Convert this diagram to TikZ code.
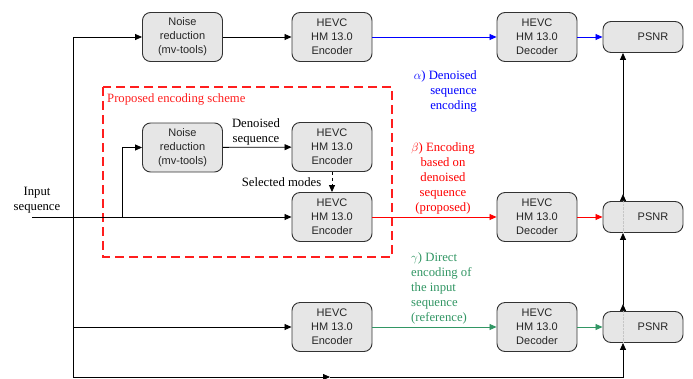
\documentclass[tikz,border=0pt]{standalone}
\usepackage{fontspec}
\setmainfont{Liberation Serif}
\newfontfamily\boxfont{Liberation Sans}
\usetikzlibrary{arrows.meta}
\definecolor{boxfill}{RGB}{230,230,230}
\definecolor{boxline}{RGB}{50,50,50}
\definecolor{grn}{RGB}{50,150,100}
\definecolor{lred}{RGB}{255,30,30}
\begin{document}
\begin{tikzpicture}[x=1pt,y=-1pt,
 blk/.style={draw=boxline, fill=boxfill, rounded corners=8pt, minimum width=80pt, minimum height=49pt, align=center, font=\boxfont\fontsize{11}{14}\selectfont, text=black!85, line width=0.9pt, inner sep=0pt},
 ps/.style={blk, minimum height=31pt},
 conn/.style={line width=0.8pt, -{Triangle[length=7pt,width=6pt]}},
 plain/.style={line width=0.8pt},
 ann/.style={font=\fontsize{12.7}{15}\selectfont, inner sep=0pt}
]
\useasboundingbox (0,0) rectangle (693,378);

% boxes
\node[blk] (nr1) at (182.5,37) {Noise\\reduction\\(mv-tools)};
\node[blk] (enc1) at (332,37) {HEVC\\HM 13.0\\Encoder};
\node[blk] (dec1) at (537,37) {HEVC\\HM 13.0\\Decoder};
\node[ps] (psnr1) at (643,37) {\hspace*{20pt}PSNR};

\node[blk] (nr2) at (182.5,147.5) {Noise\\reduction\\(mv-tools)};
\node[blk] (enc2) at (332,147) {HEVC\\HM 13.0\\Encoder};
\node[blk] (enc3) at (332,217) {HEVC\\HM 13.0\\Encoder};
\node[blk] (dec2) at (537,217) {HEVC\\HM 13.0\\Decoder};
\node[ps] (psnr2) at (643,217) {\hspace*{20pt}PSNR};

\node[blk] (enc4) at (332,327) {HEVC\\HM 13.0\\Encoder};
\node[blk] (dec3) at (537,327) {HEVC\\HM 13.0\\Decoder};
\node[ps] (psnr3) at (643,327) {\hspace*{20pt}PSNR};

% proposed scheme frame
\draw[draw=lred, dash pattern=on 9pt off 5pt, line width=1.1pt] (103,87) rectangle (392,257);
\node[ann, text=lred, anchor=base west] (prop) at (107,102.5) {Proposed encoding scheme};

% coordinates
\coordinate (in) at (32,217);
\coordinate (top) at (73,37);
\coordinate (bl) at (73,377);
\coordinate (mid) at (330,377);
\coordinate (br) at (623,377);
\coordinate (br2) at (122,217);

% input and trunk
\draw[conn] (in) -- (enc3.west);
\draw[plain] (bl) -- (top);
\draw[conn] (top) -- (nr1.west);
\draw[conn] (bl |- enc4) -- (enc4.west);
\draw[conn] (bl) -- (mid);
\draw[conn] (mid) -- (br) -- (psnr3.south -| br);
\draw[conn] (br2) -- (br2 |- nr2) -- (nr2.west);

% top path
\draw[conn] (nr1) -- (enc1);
\draw[conn, blue] (enc1) -- (dec1);
\draw[conn, blue] (dec1) -- (psnr1);

% proposed path
\draw[conn] (nr2) -- (enc2);
\draw[conn, dashed] (enc2) -- (enc3);
\draw[conn, red] (enc3) -- (dec2);
\draw[conn, red] (dec2) -- (psnr2);

% reference path
\draw[conn, grn] (enc4) -- (dec3);
\draw[conn, grn] (dec3) -- (psnr3);

% PSNR vertical links
\draw[gray!45, densely dotted, line width=0.4pt] (psnr2.north -| br) -- (psnr2.south -| br);
\draw[gray!45, densely dotted, line width=0.4pt] (psnr3.north -| br) -- (psnr3.south -| br);
\draw[line width=0.8pt, {Triangle[length=7pt,width=6pt,reversed]}-{Triangle[length=7pt,width=6pt]}] (psnr3.north -| br) -- (psnr2.south -| br);
\draw[line width=0.8pt, {Triangle[length=7pt,width=6pt,reversed]}-{Triangle[length=7pt,width=6pt]}] (psnr2.north -| br) -- (psnr1.south -| br);

% labels
\node[ann, align=center, anchor=north] (lin) at (37,187) {Input\\sequence};
\node[ann, align=center, anchor=north] (lden) at (256,118) {Denoised\\sequence};
\node[ann, anchor=base] (lsel) at (281.5,186.5) {Selected modes};
\node[ann, align=right, anchor=north east, text=blue] (la) at (477,70) {$\alpha$) Denoised\\sequence\\encoding};
\node[ann, align=center, anchor=north, text=red] (lb) at (443,142) {$\beta$) Encoding\\based on\\denoised\\sequence\\(proposed)};
\node[ann, align=left, anchor=north west, text=grn] (lg) at (411,252) {$\gamma$) Direct\\encoding of\\the input\\sequence\\(reference)};
\end{tikzpicture}
\end{document}
